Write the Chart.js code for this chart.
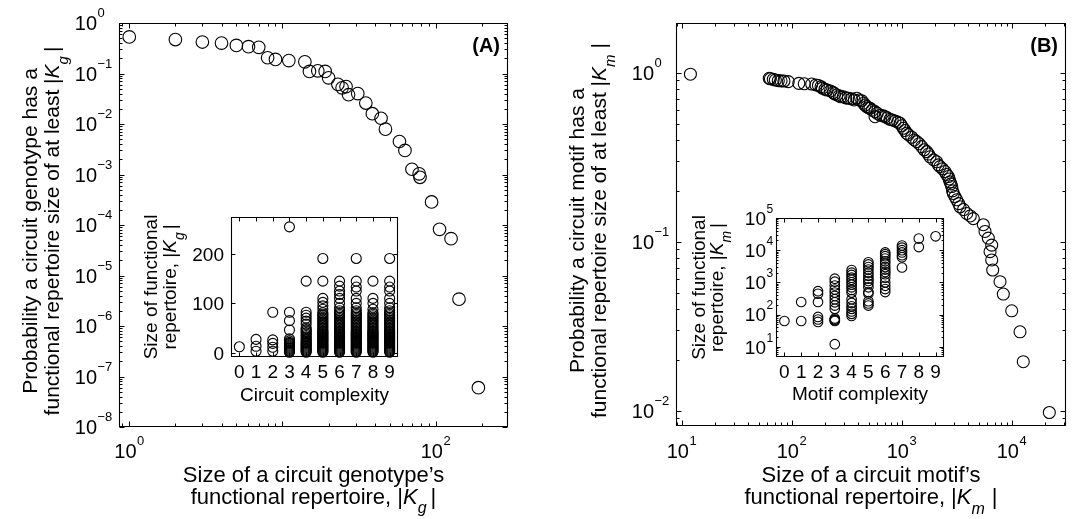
<!DOCTYPE html>
<html>
<head>
<meta charset="utf-8">
<script src="https://cdn.jsdelivr.net/npm/chart.js@4.4.1/dist/chart.umd.min.js"></script>
<style>
html, body { margin: 0; padding: 0; background: #fff; }
#wrap { position: relative; width: 1075px; height: 519px; overflow: hidden; background: #fff; }
#wrap canvas { position: absolute; left: 0; top: 0; }
</style>
</head>
<body>
<div id="wrap">
  <canvas id="mainA" width="1075" height="519"></canvas>
  <canvas id="mainB" width="1075" height="519"></canvas>
  <canvas id="insetA" width="1075" height="519"></canvas>
  <canvas id="insetB" width="1075" height="519"></canvas>
</div>
<script>
// (A) genotype repertoire size vs. cumulative probability
const genoSize = [1, 2, 3, 4, 5, 6, 7, 8, 9, 11, 14, 15, 17, 19, 20, 23, 24.5, 26, 27, 31, 35, 38.6, 44, 47, 58, 63, 70, 78, 79, 94, 106, 126, 142, 190];
const genoProb = [0.53, 0.47, 0.42, 0.40, 0.36, 0.34, 0.33, 0.205, 0.19, 0.18, 0.17, 0.11, 0.113, 0.11, 0.082, 0.061, 0.052, 0.055, 0.038, 0.040, 0.026, 0.016, 0.013, 0.0079, 0.0045, 0.003, 0.00127, 0.00103, 0.00088, 0.000286, 0.000082, 0.0000536, 0.0000034, 0.00000006];

// (A) inset: repertoire size per circuit complexity 0..9
const genoInset = [
  [12],
  [3, 13, 27],
  [3, 11, 19, 26, 82],
  [1, 3, 5, 7, 9, 11, 13, 15, 17, 19, 21, 24, 28, 46, 65, 82, 255],
  [1, 3, 5, 7, 9, 11, 13, 15, 17, 19, 21, 23, 26, 29, 32, 35, 38, 41, 44, 47, 50, 58, 64, 70, 76, 82, 145],
  [1, 3, 5, 7, 9, 11, 13, 15, 17, 19, 21, 23, 25, 27, 29, 31, 33, 35, 37, 39, 41, 43, 45, 48, 51, 54, 57, 60, 63, 66, 69, 72, 75, 78, 81, 88, 95, 102, 110, 145, 191],
  [1, 3, 5, 7, 9, 11, 13, 15, 17, 19, 21, 23, 25, 27, 29, 31, 33, 35, 37, 39, 41, 43, 45, 48, 51, 54, 57, 60, 63, 66, 69, 72, 75, 78, 81, 85, 91, 100, 110, 118, 125, 135, 145],
  [1, 3, 5, 7, 9, 11, 13, 15, 17, 19, 21, 23, 25, 27, 29, 31, 33, 35, 37, 39, 41, 43, 45, 48, 51, 54, 57, 60, 63, 66, 69, 72, 75, 78, 81, 85, 91, 100, 110, 125, 133, 145, 191],
  [1, 3, 5, 7, 9, 11, 13, 15, 17, 19, 21, 23, 25, 27, 29, 31, 33, 35, 37, 39, 41, 43, 45, 48, 51, 54, 57, 60, 63, 66, 69, 72, 75, 78, 81, 88, 100, 110, 145],
  [1, 3, 5, 7, 9, 11, 13, 15, 17, 19, 21, 23, 25, 27, 29, 31, 33, 35, 37, 39, 41, 43, 45, 48, 51, 54, 57, 60, 63, 66, 69, 72, 75, 78, 81, 85, 91, 100, 110, 125, 133, 145, 191]
];

// (B) motif repertoire size vs. cumulative probability
const motifSize = [12, 62.5, 64, 68, 71, 75.5, 80, 85, 93, 116, 130, 152, 166, 175, 185, 190, 201, 210, 225, 239, 245, 257, 270, 280, 294, 310, 327, 350, 370, 390, 410, 433, 450, 464, 480, 500, 515, 540, 572, 572, 600, 640, 680, 705, 740, 783, 820, 869, 920, 966, 1000, 1035, 1070, 1110, 1150, 1233, 1300, 1369, 1440, 1520, 1600, 1688, 1750, 1808, 1950, 2080, 2150, 2229, 2350, 2476, 2560, 2654, 2700, 2749, 2800, 2851, 2900, 2946, 3050, 3163, 3300, 3390, 3650, 3900, 4200, 4478, 5521, 5718, 6128, 6579, 6353, 6580, 6720, 7830, 8390, 10000, 11900, 12740, 21980];
const motifProb = [0.98, 0.927, 0.92, 0.914, 0.905, 0.897, 0.895, 0.893, 0.885, 0.865, 0.86, 0.857, 0.846, 0.84, 0.826, 0.81, 0.798, 0.79, 0.78, 0.762, 0.75, 0.738, 0.73, 0.72, 0.721, 0.71, 0.706, 0.70, 0.69, 0.706, 0.69, 0.683, 0.66, 0.644, 0.63, 0.62, 0.616, 0.60, 0.588, 0.549, 0.575, 0.56, 0.555, 0.549, 0.54, 0.53, 0.525, 0.518, 0.51, 0.502, 0.485, 0.469, 0.455, 0.438, 0.43, 0.415, 0.40, 0.391, 0.38, 0.365, 0.35, 0.341, 0.33, 0.318, 0.305, 0.297, 0.285, 0.278, 0.27, 0.26, 0.25, 0.243, 0.235, 0.226, 0.22, 0.212, 0.20, 0.193, 0.185, 0.177, 0.168, 0.161, 0.155, 0.147, 0.142, 0.137, 0.126, 0.115, 0.105, 0.0955, 0.0873, 0.078, 0.068, 0.058, 0.049, 0.039, 0.0293, 0.0195, 0.00976];

// (B) inset: repertoire size per motif complexity 0..9
const motifInset = [
  [63],
  [63, 245],
  [59, 70, 84, 245, 443, 532],
  [12, 63, 67, 70, 75, 150, 190, 240, 300, 380, 480, 600, 800, 1050, 1300],
  [90, 105, 125, 150, 180, 230, 300, 480, 580, 700, 850, 1000, 1200, 1400, 1700, 2000, 2400],
  [190, 220, 260, 450, 500, 700, 900, 1100, 1300, 1600, 2000, 2500, 3000, 3600, 4200],
  [500, 620, 780, 1000, 1400, 1800, 2100, 2500, 3000, 3800, 4500, 5500, 6500, 7500, 8500],
  [2900, 6000, 7000, 8500, 10000, 12000, 14000],
  [12500, 23000],
  [27000]
];

// tick labels
const genoXTicks = [1, 100];           const genoXExp = ['0', '2'];
const genoYTicks = [1, 1e-1, 1e-2, 1e-3, 1e-4, 1e-5, 1e-6, 1e-7, 1e-8];
const genoYExp = ['0', '\u22121', '\u22122', '\u22123', '\u22124', '\u22125', '\u22126', '\u22127', '\u22128'];
const motifXTicks = [10, 100, 1000, 10000]; const motifXExp = ['1', '2', '3', '4'];
const motifYTicks = [1, 0.1, 0.01];         const motifYExp = ['0', '\u22121', '\u22122'];
const complexityTicks = [0, 1, 2, 3, 4, 5, 6, 7, 8, 9];
const genoInsetYTicks = [0, 100, 200];
const motifInsetYTicks = [10, 100, 1000, 10000, 100000]; const motifInsetYExp = ['1', '2', '3', '4', '5'];

const FONT = "'Liberation Sans', Arial, Helvetica, sans-serif";
const W = 1075, H = 519;

function drawParts(ctx, parts, x, y) {
  parts.forEach(p => {
    ctx.font = p.font;
    ctx.fillText(p.t, x + (p.dx || 0), y + (p.dy || 0));
    x += ctx.measureText(p.t).width + (p.dx || 0);
  });
}
function partsWidth(ctx, parts) {
  let w = 0;
  parts.forEach(p => { ctx.font = p.font; w += ctx.measureText(p.t).width + (p.dx || 0); });
  return w;
}
function centered(ctx, parts, cx, y) {
  drawParts(ctx, parts, cx - partsWidth(ctx, parts) / 2, y);
}
function rotatedLines(ctx, lines, baseX, cy) {
  lines.forEach((parts, i) => {
    ctx.save();
    ctx.translate(baseX[i], cy);
    ctx.rotate(-Math.PI / 2);
    centered(ctx, parts, 0, 0);
    ctx.restore();
  });
}

function logMarks(min, max) {
  const marks = [];
  for (let d = Math.floor(Math.log10(min)); d <= Math.ceil(Math.log10(max)); d++) {
    for (let k = 1; k <= 9; k++) {
      const v = k * Math.pow(10, d);
      if (v >= min * 0.999 && v <= max * 1.001) marks.push({ v: v, major: k === 1 });
    }
  }
  return marks;
}

const decoPlugin = {
  id: 'deco',
  afterDatasetsDraw(chart, args, o) {
    const ctx = chart.ctx, a = chart.chartArea, xs = chart.scales.x, ys = chart.scales.y;
    ctx.save();
    ctx.strokeStyle = '#000';
    ctx.fillStyle = '#000';
    ctx.lineWidth = 1.1;
    ctx.textBaseline = 'alphabetic';
    ctx.textAlign = 'left';
    const L = a.left + 0.5, R = a.right - 0.5, T = a.top + 0.5, B = a.bottom - 0.5;
    ctx.beginPath();
    ctx.rect(L, T, R - L, B - T);
    ctx.stroke();

    ctx.lineWidth = 1;
    const xm = o.xLog ? logMarks(xs.min, xs.max) : o.xMarks.map(v => ({ v: v, major: true }));
    const ym = o.yLog ? logMarks(ys.min, ys.max) : o.yMarks.map(v => ({ v: v, major: true }));
    ctx.beginPath();
    xm.forEach(m => {
      const p = Math.round(xs.getPixelForValue(m.v)) + 0.5;
      const len = m.major ? o.tick : o.minor;
      ctx.moveTo(p, B); ctx.lineTo(p, B - len);
      ctx.moveTo(p, T); ctx.lineTo(p, T + len);
    });
    ym.forEach(m => {
      const p = Math.round(ys.getPixelForValue(m.v)) + 0.5;
      const len = m.major ? o.tick : o.minor;
      ctx.moveTo(L, p); ctx.lineTo(L + len, p);
      ctx.moveTo(R, p); ctx.lineTo(R - len, p);
    });
    ctx.stroke();

    const fm = o.fs + 'px ' + FONT, fe = o.fe + 'px ' + FONT;
    // x tick labels
    o.xTicks.forEach((v, i) => {
      const p = xs.getPixelForValue(v);
      const parts = o.xExp ? [{ t: '10', font: fm }, { t: o.xExp[i], font: fe, dy: -o.raise, dx: 0.5 }] : [{ t: String(v), font: fm }];
      centered(ctx, parts, p, a.bottom + o.xLabelGap);
    });
    // y tick labels
    o.yTicks.forEach((v, i) => {
      const p = ys.getPixelForValue(v);
      ctx.font = fm;
      const txt = o.yExp ? '10' : String(v);
      const w = ctx.measureText(txt).width;
      const xr = a.left - o.yLabelGap;
      ctx.fillText(txt, xr - w, p + o.fs * 0.36);
      if (o.yExp) {
        ctx.font = fe;
        ctx.fillText(o.yExp[i], xr + 0.5, p + o.fs * 0.36 - o.raise);
      }
    });
    // axis titles
    const cx = (a.left + a.right) / 2, cy = (a.top + a.bottom) / 2;
    o.xTitle.forEach((parts, i) => centered(ctx, parts, cx, o.xTitleY[i]));
    rotatedLines(ctx, o.yTitle, o.yTitleX, cy + (o.yTitleShift || 0));
    if (o.tag) {
      ctx.font = 'bold 20px ' + FONT;
      ctx.textAlign = 'right';
      ctx.fillText(o.tag, a.right - 8, a.top + 29);
    }
    ctx.restore();
  }
};

function makeChart(id, cfg) {
  return new Chart(document.getElementById(id), {
    type: 'scatter',
    data: {
      datasets: [{
        data: cfg.points,
        pointStyle: 'circle',
        pointRadius: cfg.radius,
        backgroundColor: 'rgba(0,0,0,0)',
        borderColor: '#000',
        borderWidth: 1.1,
        clip: false
      }]
    },
    options: {
      responsive: false,
      animation: false,
      events: [],
      layout: { padding: { left: cfg.area[0], top: cfg.area[1], right: W - cfg.area[2], bottom: H - cfg.area[3] } },
      scales: {
        x: { type: cfg.xType, min: cfg.x[0], max: cfg.x[1], display: false },
        y: { type: cfg.yType, min: cfg.y[0], max: cfg.y[1], display: false }
      },
      plugins: { legend: { display: false }, tooltip: { enabled: false }, deco: cfg.deco }
    },
    plugins: [decoPlugin]
  });
}

const f22 = '22px ' + FONT, i22 = 'italic 22px ' + FONT, s16 = 'italic 16px ' + FONT;
const f19 = '19px ' + FONT, i19 = 'italic 19px ' + FONT, s14 = 'italic 14px ' + FONT;
const yTitleFont = '21px ' + FONT, yItal = 'italic 21px ' + FONT, ySub = 'italic 15px ' + FONT;

makeChart('mainA', {
  points: genoSize.map((x, i) => ({ x: x, y: genoProb[i] })),
  radius: 6.3, xType: 'logarithmic', yType: 'logarithmic',
  x: [0.857, 296.5], y: [1e-8, 1], area: [119, 23, 508, 427],
  deco: {
    xLog: true, yLog: true, tick: 5, minor: 3, fs: 20, fe: 13, raise: 13,
    xTicks: genoXTicks, xExp: genoXExp, yTicks: genoYTicks, yExp: genoYExp,
    xLabelGap: 31, yLabelGap: 22,
    xTitle: [
      [{ t: 'Size of a circuit genotype\u2019s', font: f22 }],
      [{ t: 'functional repertoire, |', font: f22 }, { t: 'K', font: i22 }, { t: 'g', font: s16, dy: 9 }, { t: '|', font: f22, dx: 4 }]
    ],
    xTitleY: [481.5, 503.5],
    yTitle: [
      [{ t: 'Probability a circuit genotype has a', font: yTitleFont }],
      [{ t: 'functional repertoire size of at least |', font: yTitleFont }, { t: 'K', font: yItal }, { t: 'g', font: ySub, dy: 9 }, { t: '|', font: yTitleFont, dx: 4 }]
    ],
    yTitleX: [37, 59], yTitleShift: 6,
    tag: '(A)'
  }
});

makeChart('mainB', {
  points: motifSize.map((x, i) => ({ x: x, y: motifProb[i] })),
  radius: 6, xType: 'logarithmic', yType: 'logarithmic',
  x: [8.875, 31160], y: [0.00812, 1.968], area: [676, 23, 1066, 426],
  deco: {
    xLog: true, yLog: true, tick: 5, minor: 3, fs: 20, fe: 13, raise: 13,
    xTicks: motifXTicks, xExp: motifXExp, yTicks: motifYTicks, yExp: motifYExp,
    xLabelGap: 32, yLabelGap: 22,
    xTitle: [
      [{ t: 'Size of a circuit motif\u2019s', font: f22 }],
      [{ t: 'functional repertoire, |', font: f22 }, { t: 'K', font: i22 }, { t: 'm', font: s16, dy: 10 }, { t: '|', font: f22, dx: 7 }]
    ],
    xTitleY: [481.5, 503.5],
    yTitle: [
      [{ t: 'Probability a circuit motif has a', font: yTitleFont }],
      [{ t: 'functional repertoire size of at least |', font: yTitleFont }, { t: 'K', font: yItal }, { t: 'm', font: ySub, dy: 9 }, { t: '|', font: yTitleFont, dx: 6 }]
    ],
    yTitleX: [584, 606], yTitleShift: 6,
    tag: '(B)'
  }
});

makeChart('insetA', {
  points: genoInset.flatMap((col, c) => col.map(v => ({ x: c, y: v }))),
  radius: 5, xType: 'linear', yType: 'linear',
  x: [-0.5, 9.5], y: [-8.7, 275], area: [231, 217, 398, 357],
  deco: {
    xLog: false, yLog: false, tick: 4, minor: 2, fs: 19, fe: 12, raise: 11,
    xMarks: complexityTicks, yMarks: genoInsetYTicks,
    xTicks: complexityTicks, xExp: null, yTicks: genoInsetYTicks, yExp: null,
    xLabelGap: 21, yLabelGap: 7,
    xTitle: [[{ t: 'Circuit complexity', font: f19 }]],
    xTitleY: [401],
    yTitle: [
      [{ t: 'Size of functional', font: f19 }],
      [{ t: 'repertoire, |', font: f19 }, { t: 'K', font: i19 }, { t: 'g', font: s14, dy: 8 }, { t: '|', font: f19, dx: 3 }]
    ],
    yTitleX: [157, 176]
  }
});

makeChart('insetB', {
  points: motifInset.flatMap((col, c) => col.map(v => ({ x: c, y: v }))),
  radius: 4.8, xType: 'linear', yType: 'logarithmic',
  x: [-0.5, 9.5], y: [4.79, 100000], area: [776, 218, 944, 357],
  deco: {
    xLog: false, yLog: true, tick: 4, minor: 2, fs: 19, fe: 12, raise: 12,
    xMarks: complexityTicks,
    xTicks: complexityTicks, xExp: null, yTicks: motifInsetYTicks, yExp: motifInsetYExp,
    xLabelGap: 21, yLabelGap: 10,
    xTitle: [[{ t: 'Motif complexity', font: f19 }]],
    xTitleY: [400],
    yTitle: [
      [{ t: 'Size of functional', font: f19 }],
      [{ t: 'repertoire, |', font: f19 }, { t: 'K', font: i19 }, { t: 'm', font: s14, dy: 8 }, { t: '|', font: f19, dx: 3 }]
    ],
    yTitleX: [705, 723]
  }
});
</script>
</body>
</html>
